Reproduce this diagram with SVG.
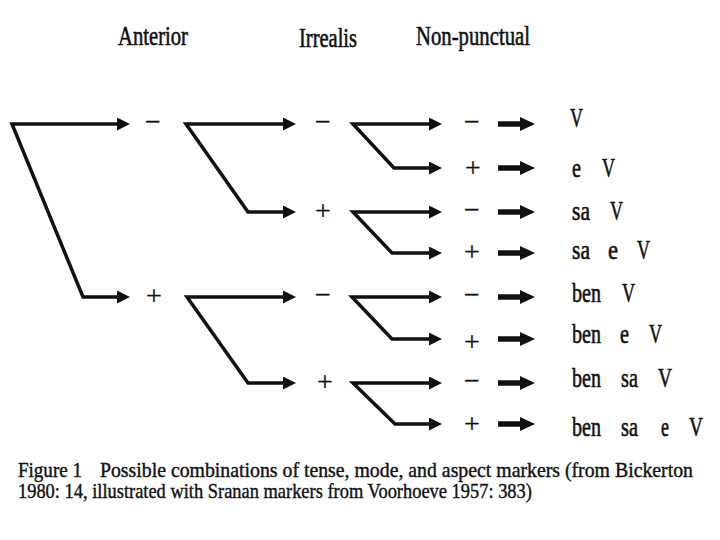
<svg xmlns="http://www.w3.org/2000/svg" width="720" height="540" viewBox="0 0 720 540">
<style>
.t{font-family:"Liberation Serif","Times New Roman",serif;fill:#111;stroke:#111;stroke-width:0.6;}
.h{font-size:28px;}
.w{font-size:28px;}
.m{font-size:28px;text-anchor:middle;stroke-width:0.3;}
.c{font-size:21px;stroke-width:0.4;}
.br{fill:none;stroke:#111;stroke-width:3.5;stroke-linejoin:miter;marker-start:url(#ah);marker-end:url(#ah);}
.sa{fill:none;stroke:#111;stroke-width:5.5;marker-end:url(#sh);}
</style>
<defs>
<marker id="ah" markerUnits="userSpaceOnUse" markerWidth="13" markerHeight="13" viewBox="0 0 13 13" refX="5" refY="6.5" orient="auto-start-reverse"><path d="M0,0 L13,6.5 L0,13 z" fill="#111"/></marker>
<marker id="sh" markerUnits="userSpaceOnUse" markerWidth="15" markerHeight="14" viewBox="0 0 15 14" refX="5" refY="7" orient="auto"><path d="M0,0 L15,7 L0,14 z" fill="#111"/></marker>
</defs>
<rect width="720" height="540" fill="#fff"/>
<g id="headers" class="t h">
<text x="118" y="45" textLength="70" lengthAdjust="spacingAndGlyphs">Anterior</text>
<text x="299" y="47" textLength="58" lengthAdjust="spacingAndGlyphs">Irrealis</text>
<text x="416" y="45" textLength="114" lengthAdjust="spacingAndGlyphs">Non-punctual</text>
</g>
<g id="connectors">
<path class="br" d="M122,124 H12 L83,297 H122"/>
<path class="br" d="M288,124 H186 L248,212 H288"/>
<path class="br" d="M288,297 H187 L248,383 H288"/>
<path class="br" d="M434,124 H353 L394,168 H434"/>
<path class="br" d="M434,212 H353 L392,253 H434"/>
<path class="br" d="M434,297 H352 L392,339 H434"/>
<path class="br" d="M434,383 H353 L395,424 H434"/>
<path class="sa" d="M498,124 H525"/>
<path class="sa" d="M498,168 H525"/>
<path class="sa" d="M498,212 H525"/>
<path class="sa" d="M498,253 H525"/>
<path class="sa" d="M498,297 H525"/>
<path class="sa" d="M498,339 H525"/>
<path class="sa" d="M498,383 H525"/>
<path class="sa" d="M498,424 H525"/>
</g>
<g id="values" class="t m">
<text x="153" y="131">−</text>
<text x="154" y="305">+</text>
<text x="323" y="131">−</text>
<text x="323" y="220">+</text>
<text x="323" y="304">−</text>
<text x="325" y="391">+</text>
<text x="472" y="131">−</text>
<text x="473" y="177">+</text>
<text x="472" y="219">−</text>
<text x="472" y="261">+</text>
<text x="472" y="304">−</text>
<text x="472" y="351">+</text>
<text x="472" y="390">−</text>
<text x="472" y="433">+</text>
</g>
<g id="outputs" class="t w">
<g id="r1"><text x="570" y="127" textLength="13" lengthAdjust="spacingAndGlyphs">V</text></g>
<g id="r2"><text x="572" y="177" textLength="9" lengthAdjust="spacingAndGlyphs">e</text><text x="602" y="177" textLength="13" lengthAdjust="spacingAndGlyphs">V</text></g>
<g id="r3"><text x="572" y="220" textLength="18" lengthAdjust="spacingAndGlyphs">sa</text><text x="610" y="220" textLength="13" lengthAdjust="spacingAndGlyphs">V</text></g>
<g id="r4"><text x="572" y="259" textLength="18" lengthAdjust="spacingAndGlyphs">sa</text><text x="608" y="259" textLength="10" lengthAdjust="spacingAndGlyphs">e</text><text x="637" y="259" textLength="13" lengthAdjust="spacingAndGlyphs">V</text></g>
<g id="r5"><text x="572" y="302" textLength="29" lengthAdjust="spacingAndGlyphs">ben</text><text x="622" y="302" textLength="13" lengthAdjust="spacingAndGlyphs">V</text></g>
<g id="r6"><text x="572" y="343" textLength="29" lengthAdjust="spacingAndGlyphs">ben</text><text x="620" y="343" textLength="9" lengthAdjust="spacingAndGlyphs">e</text><text x="649" y="343" textLength="13" lengthAdjust="spacingAndGlyphs">V</text></g>
<g id="r7"><text x="572" y="387" textLength="29" lengthAdjust="spacingAndGlyphs">ben</text><text x="621" y="387" textLength="17" lengthAdjust="spacingAndGlyphs">sa</text><text x="658" y="387" textLength="14" lengthAdjust="spacingAndGlyphs">V</text></g>
<g id="r8"><text x="572" y="436" textLength="29" lengthAdjust="spacingAndGlyphs">ben</text><text x="621" y="436" textLength="17" lengthAdjust="spacingAndGlyphs">sa</text><text x="661" y="436" textLength="8" lengthAdjust="spacingAndGlyphs">e</text><text x="689" y="436" textLength="14" lengthAdjust="spacingAndGlyphs">V</text></g>
</g>
<g id="caption" class="t c" transform="scale(0.88 1)">
<text y="477"><tspan x="20.45" textLength="72.7" lengthAdjust="spacingAndGlyphs">Figure 1</tspan><tspan x="113.6" textLength="673.9" lengthAdjust="spacingAndGlyphs">Possible combinations of tense, mode, and aspect markers (from Bickerton</tspan></text>
<text x="20.45" y="498" textLength="584" lengthAdjust="spacingAndGlyphs">1980: 14, illustrated with Sranan markers from Voorhoeve 1957: 383)</text>
</g>
</svg>
